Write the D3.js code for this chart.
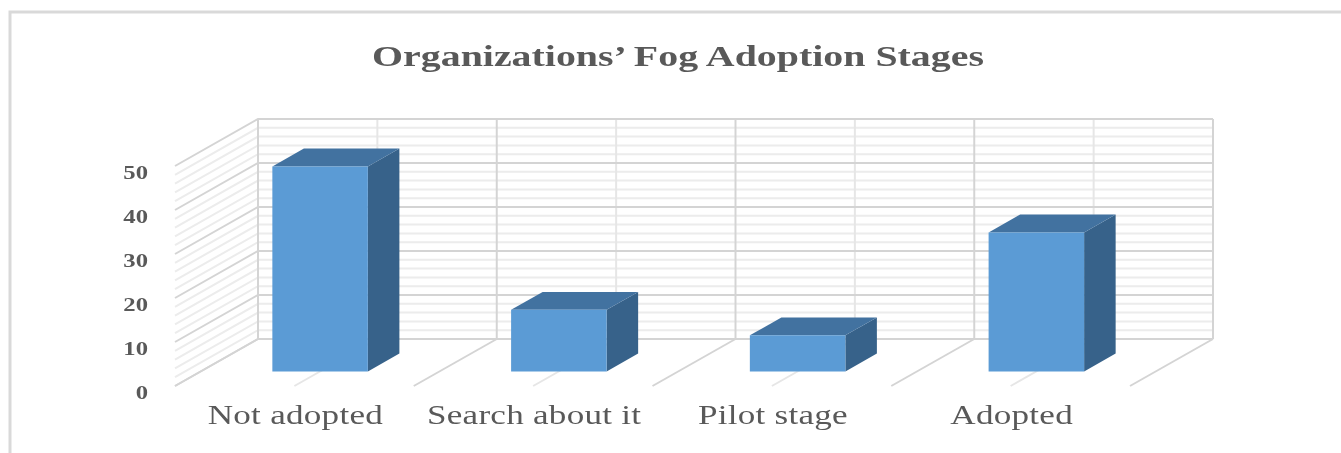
<!DOCTYPE html>
<html>
<head>
<meta charset="utf-8">
<script src="https://cdn.jsdelivr.net/npm/d3@7"></script>
<style>
    html, body { margin: 0; padding: 0; background: #fff; overflow: hidden; }
    svg { display: block; filter: blur(0.7px); }
    text { font-family: "Liberation Serif", serif; fill: #595959; }
</style>
</head>
<body>
<div id="chart-area"></div>
<script>
const title = "Organizations\u2019 Fog Adoption Stages";
const categories = ["Not adopted", "Search about it", "Pilot stage", "Adopted"];
const values = [46.6, 14, 8.2, 31.6];
const yTicks = [0, 10, 20, 30, 40, 50];

const width = 1341, height = 453;

// back wall of the 3d box, and how far the floor comes forward
const wall = {left: 258, right: 1213, top: 119, bottom: 339};
const depth = {x: -83, y: 47};
const stretch = 'scale(1.3, 1)';

const svg = d3.select('#chart-area')
    .append('svg')
    .attr('width', width)
    .attr('height', height);

const yScale = d3.scaleLinear()
    .domain([0, 50])
    .range([wall.bottom, wall.top]);

const xScale = d3.scaleBand()
    .domain(categories)
    .range([wall.left, wall.right]);

const barScale = d3.scaleBand()
    .domain(categories)
    .range([wall.left, wall.right])
    .paddingInner(0.6)
    .paddingOuter(0.3);

// z = 0 is the back wall, z = 1 the front of the floor
const zScale = d3.scaleLinear().domain([0, 1]).range([0, 1]);
const project = (x, v, z) => [x + depth.x * zScale(z), yScale(v) + depth.y * zScale(z)];
const path = d3.line();

// outer chart frame, it has no right or bottom edge in the picture
svg.append('path')
    .attr('d', 'M10,453V12H1341')
    .attr('fill', 'none')
    .attr('stroke', '#d9d9d9')
    .attr('stroke-width', 3);

svg.append('text')
    .text(title)
    .attr('transform', 'translate(678, 66) scale(1.33, 1)')
    .attr('text-anchor', 'middle')
    .attr('font-size', '30px')
    .attr('font-weight', 'bold');

const grid = svg.append('g').attr('fill', 'none');

const minorTicks = yScale.ticks(25).filter(d => d % 10 !== 0);
const minorX = categories.map(c => xScale(c) + xScale.bandwidth() / 2);
const majorX = categories.map(c => xScale(c)).concat(wall.right);

const drawLine = (points, color) => grid.append('path')
    .attr('d', path(points))
    .attr('stroke', color)
    .attr('stroke-width', 2);

minorTicks.forEach(v => {
    drawLine([project(wall.left, v, 1), project(wall.left, v, 0), project(wall.right, v, 0)], '#ececec');
});

minorX.forEach(x => {
    drawLine([[x, wall.top], [x, wall.bottom]], '#e6e6e6');
    drawLine([project(x, 0, 0), project(x, 0, 1)], '#e6e6e6');
});

yTicks.forEach(v => {
    drawLine([project(wall.left, v, 1), project(wall.left, v, 0), project(wall.right, v, 0)], '#d4d4d4');
});

majorX.forEach(x => {
    drawLine([[x, wall.top], [x, wall.bottom]], '#d4d4d4');
    drawLine([project(x, 0, 0), project(x, 0, 1)], '#d4d4d4');
});

// the bars sit between these two depths
const zBack = 0.31, zFront = 0.69;

const bars = svg.selectAll('.bar')
    .data(categories.map((c, i) => ({category: c, value: values[i]})))
    .enter()
    .append('g')
    .attr('class', 'bar');

const face = (d, points) => path(points.map(p =>
    project(barScale(d.category) + p[0] * barScale.bandwidth(), p[1] * d.value, p[2])
)) + 'Z';

bars.append('path')
    .attr('fill', '#37628a')
    .attr('d', d => face(d, [[1, 0, zFront], [1, 1, zFront], [1, 1, zBack], [1, 0, zBack]]));

bars.append('path')
    .attr('fill', '#4272a0')
    .attr('d', d => face(d, [[0, 1, zFront], [1, 1, zFront], [1, 1, zBack], [0, 1, zBack]]));

bars.append('path')
    .attr('fill', '#5b9bd5')
    .attr('d', d => face(d, [[0, 0, zFront], [1, 0, zFront], [1, 1, zFront], [0, 1, zFront]]));

const xAxisCall = d3.axisBottom(xScale).tickSize(0);

const xAxis = svg.append('g')
    .attr('transform', 'translate(' + (depth.x + 1) + ', ' + (wall.bottom + depth.y) + ')')
    .call(xAxisCall);

xAxis.select('.domain').remove();
xAxis.selectAll('text')
    .attr('y', 38)
    .attr('dy', 0)
    .attr('transform', stretch)
    .attr('font-size', '27px')
    .style('letter-spacing', '0.2px');

const yAxisCall = d3.axisLeft(yScale).tickValues(yTicks).tickSize(0);

const yAxis = svg.append('g')
    .attr('transform', 'translate(148, ' + (depth.y + 6.5) + ')')
    .call(yAxisCall);

yAxis.select('.domain').remove();
yAxis.selectAll('text')
    .attr('x', 0)
    .attr('dy', '0.34em')
    .attr('transform', stretch)
    .attr('font-size', '19px')
    .attr('font-weight', 'bold');
</script>
</body>
</html>
